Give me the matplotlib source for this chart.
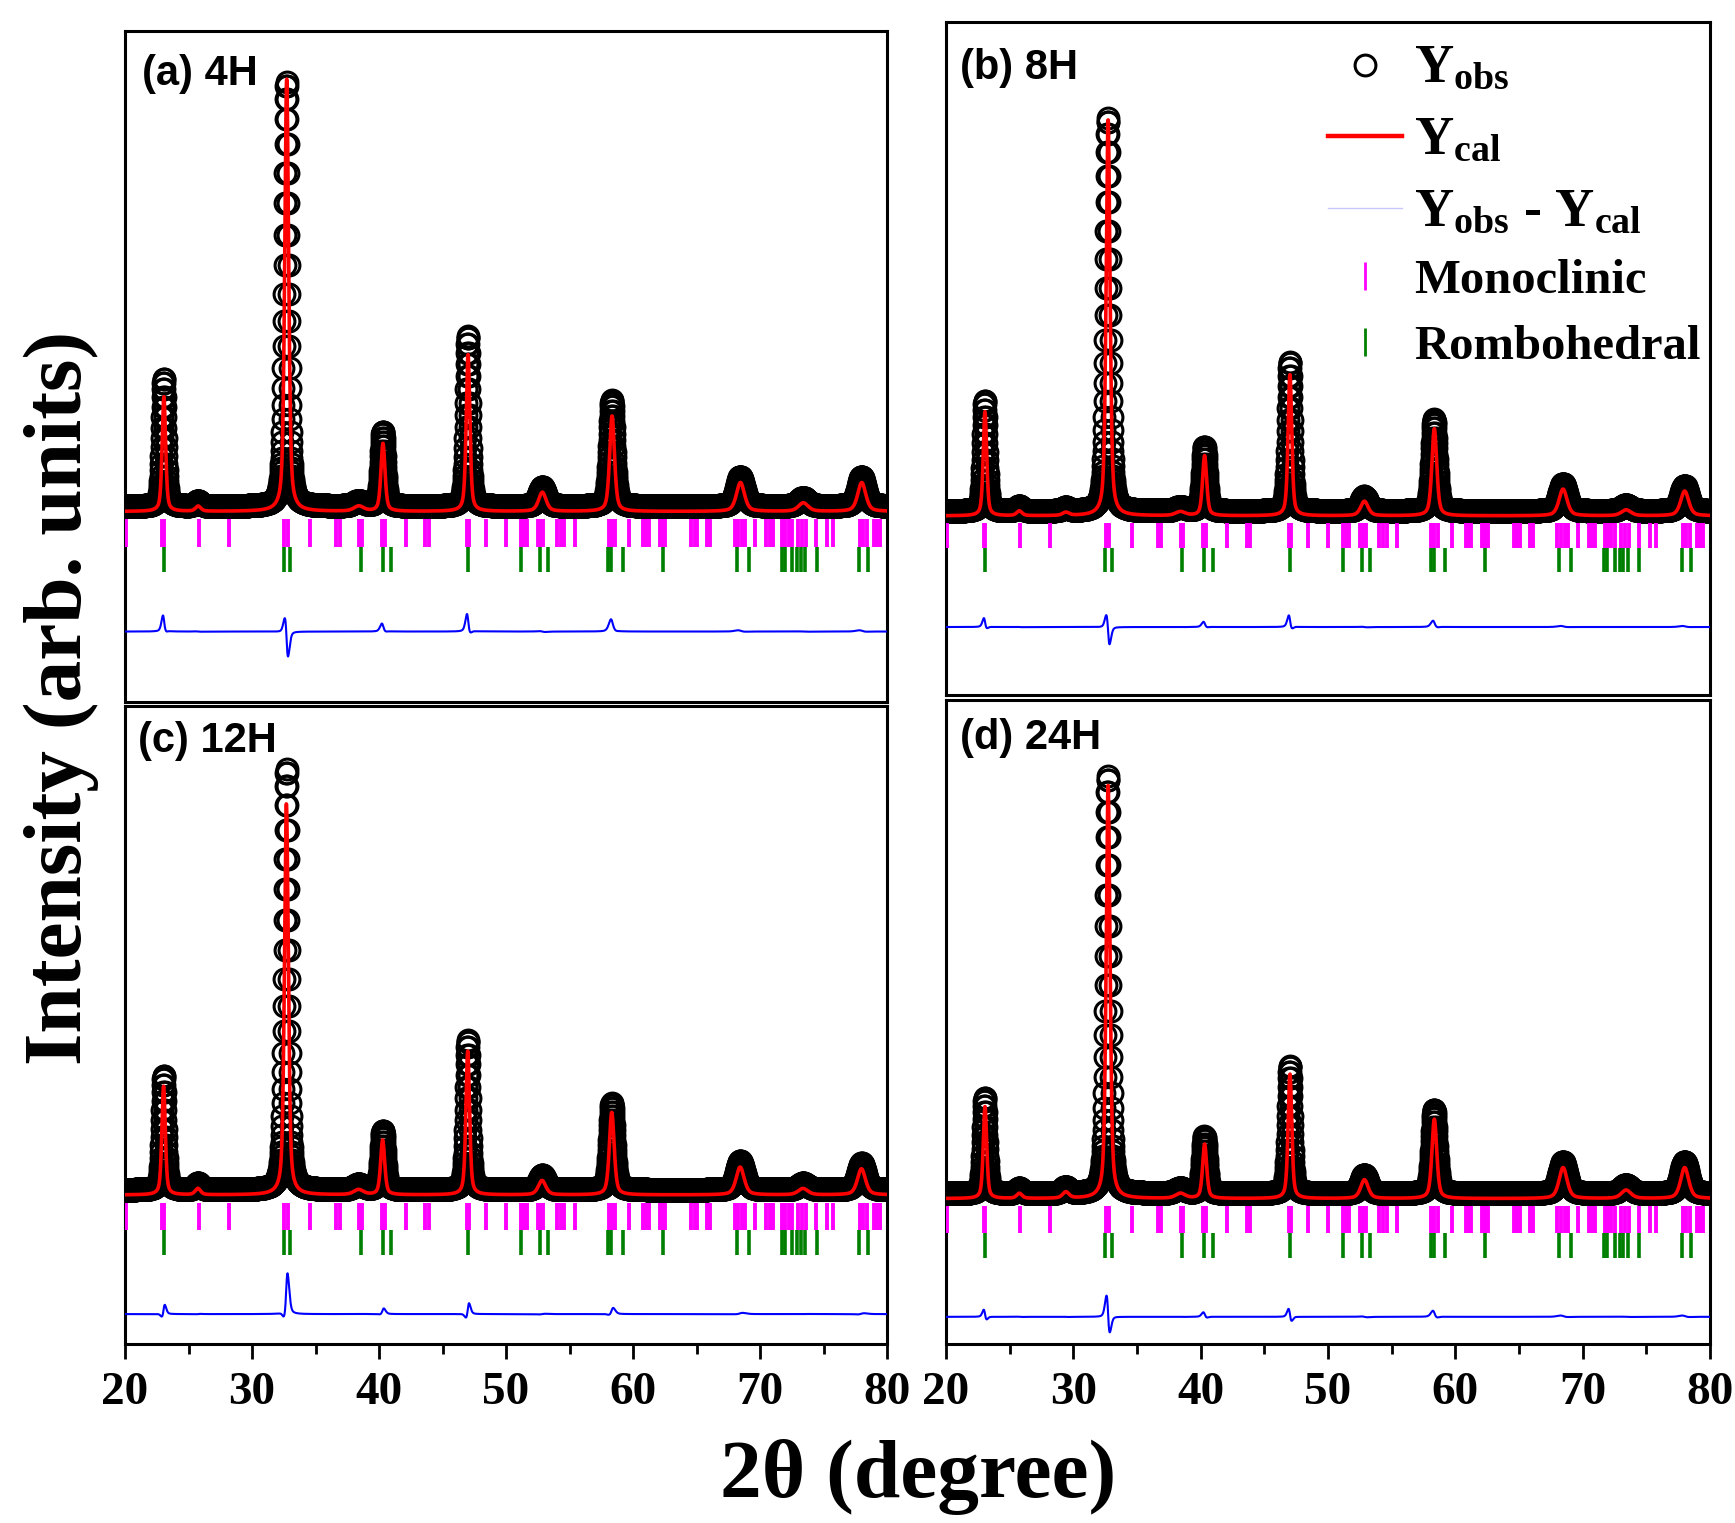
import numpy as np
import matplotlib
matplotlib.use('Agg')
import matplotlib.pyplot as plt
from matplotlib.lines import Line2D
from matplotlib.ticker import MultipleLocator

plt.rcParams['font.family'] = ['Liberation Serif', 'DejaVu Serif']
plt.rcParams['font.weight'] = 'bold'
plt.rcParams['mathtext.fontset'] = 'custom'
plt.rcParams['mathtext.rm'] = 'Liberation Serif:bold'
plt.rcParams['mathtext.bf'] = 'Liberation Serif:bold'
plt.rcParams['mathtext.it'] = 'Liberation Serif:bold'

# peak table (2theta, fwhm), heights normalised to main peak
peak_pos = [23.05, 25.75, 29.4, 32.72, 38.4, 40.3, 47.0, 52.85, 58.34, 68.45, 73.4, 78.0]
peak_fwhm = [0.32, 0.5, 0.6, 0.36, 0.9, 0.38, 0.34, 0.7, 0.45, 0.75, 0.9, 0.75]

obs_a = [0.30, 0.012, 0.0, 1.0, 0.012, 0.175, 0.40, 0.045, 0.25, 0.07, 0.02, 0.07]
cal_a = [0.27, 0.012, 0.0, 1.02, 0.012, 0.16, 0.37, 0.045, 0.225, 0.068, 0.02, 0.068]
obs_b = [0.28, 0.012, 0.008, 1.0, 0.01, 0.163, 0.38, 0.037, 0.234, 0.07, 0.015, 0.065]
cal_b = [0.265, 0.012, 0.008, 1.01, 0.01, 0.153, 0.36, 0.037, 0.222, 0.068, 0.015, 0.063]
obs_c = [0.27, 0.015, 0.0, 1.0, 0.012, 0.14, 0.355, 0.034, 0.206, 0.068, 0.015, 0.063]
cal_c = [0.258, 0.015, 0.0, 0.93, 0.012, 0.13, 0.342, 0.034, 0.196, 0.066, 0.015, 0.062]
obs_d = [0.228, 0.012, 0.015, 1.0, 0.012, 0.137, 0.305, 0.045, 0.20, 0.076, 0.02, 0.076]
cal_d = [0.22, 0.012, 0.015, 0.99, 0.012, 0.13, 0.298, 0.045, 0.19, 0.074, 0.02, 0.074]

# Bragg positions
mono_pos = [20.05, 22.95, 23.1, 25.8, 28.2, 32.55, 32.8, 34.6, 36.65, 36.9, 38.45, 38.65,
            40.2, 40.45, 42.1, 43.65, 43.9, 46.9, 47.1, 48.4, 50.0, 51.15, 51.4, 51.65,
            52.55, 52.75, 52.95, 54.0, 54.3, 54.6, 55.4, 58.1, 58.35, 58.6, 59.7, 60.8,
            61.05, 61.25, 62.1, 62.35, 62.55, 64.6, 64.85, 65.05, 65.85, 66.1, 68.0, 68.3,
            68.6, 68.85, 69.6, 70.5, 70.75, 71.0, 71.75, 72.0, 72.25, 72.55, 73.0, 73.3,
            73.6, 74.4, 75.25, 75.75, 77.85, 78.1, 78.4, 78.95, 79.2, 79.45]
rhombo_pos = [23.05, 32.5, 33.0, 38.55, 40.3, 40.95, 47.0, 51.2, 52.7, 53.3, 58.05, 58.3,
              59.2, 62.35, 68.15, 69.1, 71.7, 71.95, 72.5, 72.95, 73.2, 73.55, 74.45,
              77.8, 78.5]

panel_labels = ['(a) 4H', '(b) 8H', '(c) 12H', '(d) 24H']
ylims = [(-0.461, 1.12), (-0.468, 1.245), (-0.366, 1.149), (-0.36, 1.181)]
cal_shift = [0.012, 0.01, -0.012, 0.012]
cal_bg = -0.012
diff_offset = -0.307

two_theta = np.arange(20.0, 80.0001, 0.02)


def profile(x, pos, hts, fwhm, shift=0.0, eta=0.5):
    y = np.zeros_like(x)
    for p, h, w in zip(pos, hts, fwhm):
        u = (x - p - shift) / (w / 2)
        y += h * (eta / (1 + u**2) + (1 - eta) * np.exp(-np.log(2) * u**2))
    return y


W, H = 1735, 1523
fig = plt.figure(figsize=(W / 100, H / 100), dpi=100)


def rect(x0, y0, x1, y1):
    return [x0 / W, 1 - y1 / H, (x1 - x0) / W, (y1 - y0) / H]


ax_a = fig.add_axes(rect(125, 31, 887, 702))
ax_b = fig.add_axes(rect(946, 22, 1710, 695))
ax_c = fig.add_axes(rect(125, 706, 887, 1344))
ax_d = fig.add_axes(rect(946, 700, 1710, 1344))
axes = [ax_a, ax_b, ax_c, ax_d]
obs_all = [obs_a, obs_b, obs_c, obs_d]
cal_all = [cal_a, cal_b, cal_c, cal_d]
label_xy = [(0.022, 0.936), (0.018, 0.932), (0.017, 0.945), (0.018, 0.941)]

for i, ax in enumerate(axes):
    yobs = profile(two_theta, peak_pos, obs_all[i], peak_fwhm)
    ycal = profile(two_theta, peak_pos, cal_all[i], peak_fwhm, shift=cal_shift[i]) + cal_bg
    ax.plot(two_theta, yobs, ls='none', marker='o', ms=15, mfc='none', mec='black',
            mew=2.2, zorder=2)
    ax.plot(two_theta, ycal, color='red', lw=2.6, zorder=3)
    ax.vlines(mono_pos, -0.095, -0.03, color='#ff00ff', lw=2.8, zorder=3)
    ax.vlines(rhombo_pos, -0.155, -0.095, color='#008000', lw=2.6, zorder=3)
    ax.plot(two_theta, yobs - ycal + diff_offset, color='blue', lw=1.5, zorder=3)

    ax.set_xlim(20, 80)
    ax.set_ylim(*ylims[i])
    ax.set_yticks([])
    for sp in ax.spines.values():
        sp.set_linewidth(2.2)
    ax.text(label_xy[i][0], label_xy[i][1], panel_labels[i], transform=ax.transAxes,
            ha='left', va='center', fontsize=30, fontweight='bold',
            family='Liberation Sans')
    ax.xaxis.set_major_locator(MultipleLocator(10))
    ax.xaxis.set_minor_locator(MultipleLocator(5))
    if i < 2:
        ax.tick_params(axis='x', which='both', bottom=False, labelbottom=False)
    else:
        ax.tick_params(axis='x', which='major', direction='out', length=11, width=2,
                       pad=9, labelsize=34)
        ax.tick_params(axis='x', which='minor', direction='out', length=7, width=2)
        for t in ax.get_xticklabels():
            t.set_fontweight('bold')

handles = [
    Line2D([], [], ls='none', marker='o', ms=15, mfc='none', mec='black', mew=2.2),
    Line2D([], [], color='red', lw=3.2),
    Line2D([], [], color='#c8c8ff', lw=1),
    Line2D([], [], ls='none', marker='|', ms=20, mew=2, color='#ff00ff'),
    Line2D([], [], ls='none', marker='|', ms=20, mew=2, color='#008000'),
]
labels = [r'Y$_{\mathrm{obs}}$', r'Y$_{\mathrm{cal}}$',
          r'Y$_{\mathrm{obs}}$ - Y$_{\mathrm{cal}}$', 'Monoclinic', 'Rombohedral']
leg = ax_b.legend(handles, labels, loc='upper left', bbox_to_anchor=(0.5, 0.968),
                  frameon=False, borderpad=0, borderaxespad=0, handlelength=1.52,
                  handletextpad=0.25, labelspacing=0.45,
                  prop={'family': 'Liberation Serif', 'weight': 'bold', 'size': 35})
for t in leg.get_texts()[:3]:
    t.set_fontsize(39)

fig.text(61 / W, 1 - 698 / H, 'Intensity (arb. units)', rotation=90, ha='center',
         va='center', fontsize=60, fontweight='bold')
fig.text(918 / W, 1 - 1477 / H, '2θ (degree)', ha='center', va='center',
         fontsize=60, fontweight='bold')

fig.savefig('out.png', dpi=100)
